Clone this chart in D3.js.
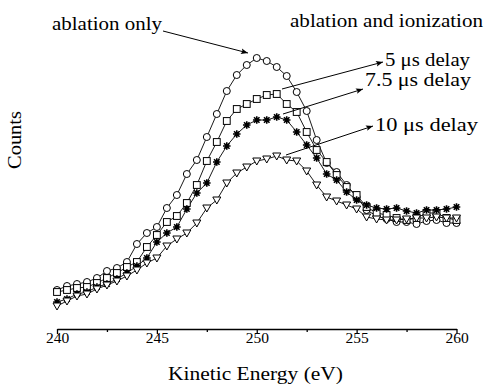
<!DOCTYPE html>
<html><head><meta charset="utf-8">
<script src="https://cdn.jsdelivr.net/npm/d3@7/dist/d3.min.js"></script>
<style>body{margin:0;background:#fff}svg{display:block}</style>
</head><body><svg id="c" width="485" height="385"></svg>
<script>
const energy = [240,240.5,241,241.5,242,242.5,243,243.5,244,244.5,245,245.5,246,246.5,247,247.5,248,248.5,249,249.5,250,250.5,251,251.5,252,252.5,253,253.5,254,254.5,255,255.5,256,256.5,257,257.5,258,258.5,259,259.5,260];
const ablationOnly = [39,43,45,47,51,58,61,67,85,96,102,121,134,155,169,192,215,238,254,264,271,268,262,253,237,218,189,166,157,144,132,119,113,110,107,107,105,108,109,106,106];
const delay5 = [37,39,41,42,46,51,56,62,67,82,94,107,113,126,144,168,187,208,220,225,230,234,235,225,217,197,179,167,154,142,134,122,116,114,111,109,111,116,116,111,109];
const delay75 = [27,30,35,37,42,45,50,56,63,71,87,96,102,120,136,146,167,183,195,204,209,209,212,209,197,184,171,155,149,137,129,124,121,120,121,118,116,119,119,120,122];
const delay10 = [23,28,33,35,40,44,48,53,59,66,71,83,90,96,106,121,129,146,156,162,168,170,173,169,168,158,144,132,128,124,120,112,110,109,109,110,111,111,112,111,111];
const majorTicks = [240,245,250,255,260];
const minorTicks = [242.5,247.5,252.5,257.5];
const xTitle = "Kinetic Energy (eV)";
const yTitle = "Counts";

const FONT = '"Liberation Serif", "Times New Roman", Times, serif';
const svg = d3.select("#c");
const x = d3.scaleLinear().domain([240,260]).range([57,456.5]);
const y = d3.scaleLinear().domain([0,300]).range([329,29]);

// axis
const gx = svg.append("g").attr("transform","translate(0,329)");
gx.call(d3.axisBottom(x).tickValues(majorTicks).tickSize(5).tickSizeOuter(0).tickPadding(-2).tickFormat(d3.format("d")));
gx.attr("font-family", FONT).attr("font-size", 15);
gx.select(".domain").attr("stroke","#000").attr("stroke-width",1.3);
gx.selectAll(".tick line").attr("stroke","#000").attr("stroke-width",1.3);
gx.selectAll(".tick text").attr("fill","#000").attr("font-family", FONT).attr("font-size",15.5);
const gm = svg.append("g").attr("transform","translate(0,329)");
gm.call(d3.axisBottom(x).tickValues(minorTicks).tickSize(3).tickFormat(""));
gm.select(".domain").remove();
gm.selectAll(".tick line").attr("stroke","#000").attr("stroke-width",1.3);

svg.append("text").attr("x",255.5).attr("y",380).attr("text-anchor","middle")
  .attr("font-family",FONT).attr("font-size",18.5).attr("textLength",175).attr("lengthAdjust","spacingAndGlyphs").text(xTitle);
svg.append("text").attr("transform","translate(21,140) rotate(-90)").attr("text-anchor","middle")
  .attr("font-family",FONT).attr("font-size",18).attr("textLength",58).attr("lengthAdjust","spacingAndGlyphs").text(yTitle);

const series = [
  {v: ablationOnly, m: "circle"},
  {v: delay5, m: "square"},
  {v: delay75, m: "star"},
  {v: delay10, m: "tri"}
];
const line = d3.line().x((d,i)=>x(energy[i])).y(d=>y(d));
series.forEach(s=>{
  svg.append("path").attr("d",line(s.v)).attr("fill","none").attr("stroke","#000").attr("stroke-width",0.9);
});
series.forEach(s=>{
  const g = svg.append("g");
  s.v.forEach((d,i)=>{
    const cx = x(energy[i]), cy = y(d);
    if (s.m==="circle") g.append("circle").attr("cx",cx).attr("cy",cy).attr("r",3.5).attr("fill","#fff").attr("stroke","#000").attr("stroke-width",1);
    else if (s.m==="square") g.append("rect").attr("x",cx-3.4).attr("y",cy-3.4).attr("width",6.8).attr("height",6.8).attr("fill","#fff").attr("stroke","#000").attr("stroke-width",1);
    else if (s.m==="tri") g.append("path").attr("d",`M${cx-4},${cy-3}L${cx+4},${cy-3}L${cx},${cy+4}Z`).attr("fill","#fff").attr("stroke","#000").attr("stroke-width",1);
    else {
      const r=3.8, q=r*0.72;
      g.append("path").attr("d",`M${cx-r},${cy}L${cx+r},${cy}M${cx},${cy-r}L${cx},${cy+r}M${cx-q},${cy-q}L${cx+q},${cy+q}M${cx-q},${cy+q}L${cx+q},${cy-q}`)
        .attr("stroke","#000").attr("stroke-width",1.6);
      g.append("circle").attr("cx",cx).attr("cy",cy).attr("r",1.8).attr("fill","#000");
    }
  });
});

// annotations
const defs = svg.append("defs");
defs.append("marker").attr("id","ah").attr("viewBox","0 0 10 10").attr("refX",10).attr("refY",5)
  .attr("markerWidth",9).attr("markerHeight",7).attr("markerUnits","userSpaceOnUse").attr("orient","auto")
  .append("path").attr("d","M0,1L10,5L0,9L2,5Z").attr("fill","#000");
const arrows = [[163,31,248,53],[282,89,383,62],[283,114,363,89],[286,155,373,126]];
arrows.forEach(a=>svg.append("line").attr("x1",a[0]).attr("y1",a[1]).attr("x2",a[2]).attr("y2",a[3])
  .attr("stroke","#000").attr("stroke-width",1).attr("marker-end","url(#ah)"));
const labels = [["ablation only",52,30,110],["ablation and ionization",290,27,193],["5 \u03bcs delay",385,66,85],["7.5 \u03bcs delay",365,86,106],["10 \u03bcs delay",375,131,103]];
labels.forEach(l=>svg.append("text").attr("x",l[1]).attr("y",l[2]).attr("font-family",FONT).attr("font-size",18)
  .attr("textLength",l[3]).attr("lengthAdjust","spacingAndGlyphs").text(l[0]));
</script></body></html>
